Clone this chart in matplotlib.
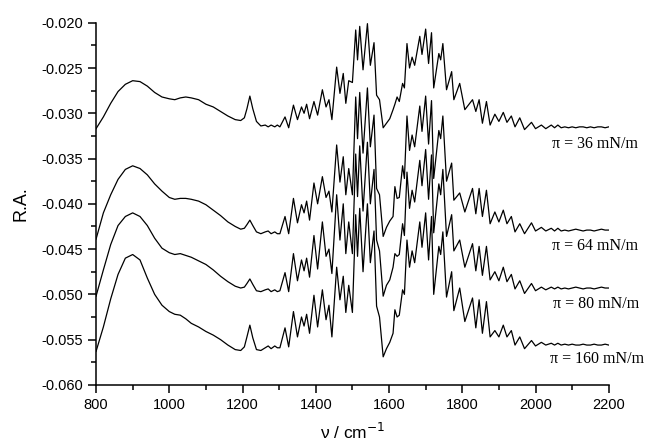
import matplotlib
matplotlib.use("Agg")
import matplotlib.pyplot as plt
from matplotlib.ticker import MultipleLocator, FormatStrFormatter

plt.rcParams['axes.unicode_minus'] = False
plt.rcParams['font.family'] = ['Liberation Sans', 'DejaVu Sans']

# wavenumber grid (cm-1): smooth part, fringe part, flat tail
x_smooth = [800, 820, 840, 860, 880, 900, 920, 940, 960, 980, 1000, 1015, 1030, 1045,
            1060, 1080, 1100, 1120, 1140, 1160, 1180, 1195, 1205, 1212, 1220, 1228,
            1238, 1250, 1262, 1270, 1278, 1288, 1295]
x_fringe = [1302, 1316, 1326, 1339, 1350, 1361, 1368, 1375, 1383, 1395, 1405, 1418, 1428,
            1436, 1444, 1457, 1466, 1475, 1482, 1490, 1500, 1509, 1514, 1520, 1529, 1541,
            1549, 1559, 1566, 1574, 1584, 1593, 1602, 1611, 1616, 1622, 1628, 1637, 1642,
            1649, 1656, 1663, 1670, 1684, 1690, 1700, 1708, 1716, 1722, 1736, 1741, 1747,
            1757, 1771, 1777, 1793, 1807, 1828, 1837, 1846, 1855, 1866, 1876, 1889, 1900,
            1912, 1922, 1934, 1944, 1957, 1970, 1989, 2000, 2016, 2028, 2043, 2052, 2061,
            2070]
x_tail = [2080, 2090, 2100, 2110, 2120, 2130, 2140, 2150, 2160, 2170, 2180, 2190, 2200]
wavenumber = x_smooth + x_fringe + x_tail

# pi = 36 mN/m
ra_36 = [-0.0317, -0.0304, -0.0289, -0.0276, -0.0268, -0.0264, -0.0265, -0.0270, -0.0277,
         -0.0282, -0.0284, -0.0285, -0.0283, -0.0282, -0.0283, -0.0285, -0.0290, -0.0293,
         -0.0298, -0.0303, -0.0307, -0.0308, -0.0305, -0.0295, -0.0281, -0.0295, -0.0309,
         -0.0314, -0.0313, -0.0315, -0.0313, -0.0315, -0.0313,
         -0.0315, -0.0304, -0.0316, -0.0291, -0.0307, -0.0293, -0.0300, -0.0290, -0.0306,
         -0.0287, -0.0302, -0.0274, -0.0293, -0.0285, -0.0307, -0.0249, -0.0278, -0.0256,
         -0.0289, -0.0264, -0.0266, -0.0208, -0.0241, -0.0204, -0.0252, -0.0201, -0.0247,
         -0.0222, -0.0280, -0.0285, -0.0316, -0.0311, -0.0306, -0.0296, -0.0290, -0.0282,
         -0.0287, -0.0267, -0.0272, -0.0223, -0.0250, -0.0238, -0.0247, -0.0215, -0.0235,
         -0.0207, -0.0245, -0.0211, -0.0272, -0.0234, -0.0241, -0.0223, -0.0274, -0.0254,
         -0.0285, -0.0267, -0.0296, -0.0285, -0.0298, -0.0285, -0.0311, -0.0287, -0.0313,
         -0.0301, -0.0309, -0.0299, -0.0310, -0.0303, -0.0315, -0.0305, -0.0318, -0.0310,
         -0.0317, -0.0313, -0.0317, -0.0313, -0.0316, -0.0313, -0.0316,
         -0.0315, -0.0316, -0.0315, -0.0316, -0.0315, -0.0315, -0.0316, -0.0315, -0.0316,
         -0.0315, -0.0315, -0.0316, -0.0315]

# pi = 64 mN/m
ra_64 = [-0.0439, -0.0410, -0.0390, -0.0373, -0.0362, -0.0358, -0.0361, -0.0368, -0.0378,
         -0.0386, -0.0393, -0.0395, -0.0394, -0.0394, -0.0395, -0.0397, -0.0401, -0.0407,
         -0.0413, -0.0420, -0.0425, -0.0428, -0.0427, -0.0423, -0.0418, -0.0424, -0.0431,
         -0.0433, -0.0431, -0.0430, -0.0433, -0.0431, -0.0433,
         -0.0433, -0.0414, -0.0433, -0.0394, -0.0421, -0.0401, -0.0410, -0.0397, -0.0418,
         -0.0377, -0.0400, -0.0370, -0.0393, -0.0386, -0.0409, -0.0335, -0.0376, -0.0348,
         -0.0390, -0.0361, -0.0390, -0.0282, -0.0328, -0.0277, -0.0344, -0.0272, -0.0337,
         -0.0302, -0.0383, -0.0390, -0.0436, -0.0426, -0.0419, -0.0414, -0.0381, -0.0394,
         -0.0393, -0.0358, -0.0372, -0.0303, -0.0341, -0.0324, -0.0337, -0.0292, -0.0320,
         -0.0281, -0.0334, -0.0286, -0.0372, -0.0319, -0.0328, -0.0303, -0.0375, -0.0355,
         -0.0396, -0.0388, -0.0409, -0.0383, -0.0411, -0.0383, -0.0414, -0.0385, -0.0422,
         -0.0409, -0.0420, -0.0407, -0.0422, -0.0414, -0.0431, -0.0422, -0.0433, -0.0421,
         -0.0430, -0.0426, -0.0430, -0.0427, -0.0430, -0.0427, -0.0430,
         -0.0429, -0.0430, -0.0429, -0.0428, -0.0429, -0.0430, -0.0429, -0.0429, -0.0430,
         -0.0429, -0.0428, -0.0429, -0.0429]

# pi = 80 mN/m
ra_80 = [-0.0502, -0.0473, -0.0445, -0.0424, -0.0414, -0.0410, -0.0414, -0.0424, -0.0438,
         -0.0449, -0.0454, -0.0456, -0.0455, -0.0457, -0.0459, -0.0463, -0.0467, -0.0473,
         -0.0480, -0.0486, -0.0491, -0.0493, -0.0492, -0.0488, -0.0483, -0.0489, -0.0496,
         -0.0497, -0.0495, -0.0494, -0.0497, -0.0495, -0.0497,
         -0.0496, -0.0476, -0.0497, -0.0455, -0.0485, -0.0462, -0.0474, -0.0460, -0.0481,
         -0.0435, -0.0472, -0.0420, -0.0458, -0.0450, -0.0477, -0.0390, -0.0440, -0.0400,
         -0.0455, -0.0420, -0.0455, -0.0345, -0.0392, -0.0336, -0.0408, -0.0332, -0.0400,
         -0.0362, -0.0440, -0.0452, -0.0502, -0.0490, -0.0484, -0.0470, -0.0455, -0.0458,
         -0.0456, -0.0422, -0.0435, -0.0365, -0.0405, -0.0385, -0.0398, -0.0352, -0.0380,
         -0.0340, -0.0395, -0.0346, -0.0432, -0.0378, -0.0390, -0.0362, -0.0436, -0.0412,
         -0.0452, -0.0440, -0.0470, -0.0444, -0.0474, -0.0447, -0.0479, -0.0447, -0.0484,
         -0.0475, -0.0485, -0.0470, -0.0486, -0.0478, -0.0494, -0.0485, -0.0499, -0.0488,
         -0.0496, -0.0492, -0.0495, -0.0492, -0.0494, -0.0492, -0.0494,
         -0.0493, -0.0494, -0.0493, -0.0492, -0.0493, -0.0494, -0.0493, -0.0493, -0.0494,
         -0.0493, -0.0492, -0.0493, -0.0493]

# pi = 160 mN/m
ra_160 = [-0.0563, -0.0536, -0.0505, -0.0478, -0.0460, -0.0456, -0.0462, -0.0482, -0.0500,
          -0.0512, -0.0519, -0.0522, -0.0523, -0.0527, -0.0532, -0.0536, -0.0541, -0.0545,
          -0.0550, -0.0556, -0.0561, -0.0562, -0.0558, -0.0547, -0.0534, -0.0548, -0.0561,
          -0.0562, -0.0559, -0.0557, -0.0560, -0.0557, -0.0559,
          -0.0559, -0.0537, -0.0558, -0.0519, -0.0547, -0.0525, -0.0535, -0.0522, -0.0543,
          -0.0501, -0.0536, -0.0495, -0.0528, -0.0512, -0.0547, -0.0470, -0.0506, -0.0480,
          -0.0520, -0.0490, -0.0520, -0.0412, -0.0458, -0.0405, -0.0475, -0.0400, -0.0465,
          -0.0430, -0.0513, -0.0525, -0.0569, -0.0560, -0.0553, -0.0543, -0.0517, -0.0525,
          -0.0523, -0.0495, -0.0500, -0.0440, -0.0470, -0.0452, -0.0465, -0.0420, -0.0448,
          -0.0410, -0.0462, -0.0414, -0.0500, -0.0447, -0.0456, -0.0431, -0.0503, -0.0475,
          -0.0518, -0.0493, -0.0530, -0.0504, -0.0537, -0.0506, -0.0543, -0.0508, -0.0547,
          -0.0540, -0.0547, -0.0534, -0.0547, -0.0540, -0.0556, -0.0547, -0.0560, -0.0551,
          -0.0557, -0.0553, -0.0556, -0.0554, -0.0556, -0.0554, -0.0556,
          -0.0555, -0.0556, -0.0555, -0.0556, -0.0556, -0.0555, -0.0556, -0.0556, -0.0555,
          -0.0556, -0.0556, -0.0555, -0.0556]

labels = ["\u03c0 = 36 mN/m", "\u03c0 = 64 mN/m", "\u03c0 = 80 mN/m", "\u03c0 = 160 mN/m"]
label_x = [2044, 2044, 2047, 2039]
label_y = [-0.0334, -0.0447, -0.0511, -0.0571]

fig = plt.figure(figsize=(6.49, 4.46), dpi=100)
ax = fig.add_axes([0.148, 0.137, 0.790, 0.812])

for ra in [ra_36, ra_64, ra_80, ra_160]:
    ax.plot(wavenumber, ra, color='black', lw=0.9)

for t, lx, ly in zip(labels, label_x, label_y):
    ax.text(lx, ly, t, fontsize=11.5, family=['Liberation Serif', 'DejaVu Serif'],
            va='center', ha='left')

ax.set_xlim(800, 2200)
ax.set_ylim(-0.060, -0.020)
ax.xaxis.set_major_locator(MultipleLocator(200))
ax.xaxis.set_minor_locator(MultipleLocator(100))
ax.yaxis.set_major_locator(MultipleLocator(0.005))
ax.yaxis.set_minor_locator(MultipleLocator(0.0025))
ax.yaxis.set_major_formatter(FormatStrFormatter('%.3f'))

ax.spines['top'].set_visible(False)
ax.spines['right'].set_visible(False)
for s in ['left', 'bottom']:
    ax.spines[s].set_linewidth(1.1)
ax.tick_params(which='major', direction='out', length=6, width=1.1, labelsize=10.5)
ax.tick_params(which='minor', direction='out', length=3.5, width=1.1)

ax.set_ylabel("R.A.", fontsize=13, labelpad=8)
ax.set_xlabel("\u03bd / cm$^{-1}$", fontsize=12.5, labelpad=7)

fig.savefig("out.png", dpi=100)
